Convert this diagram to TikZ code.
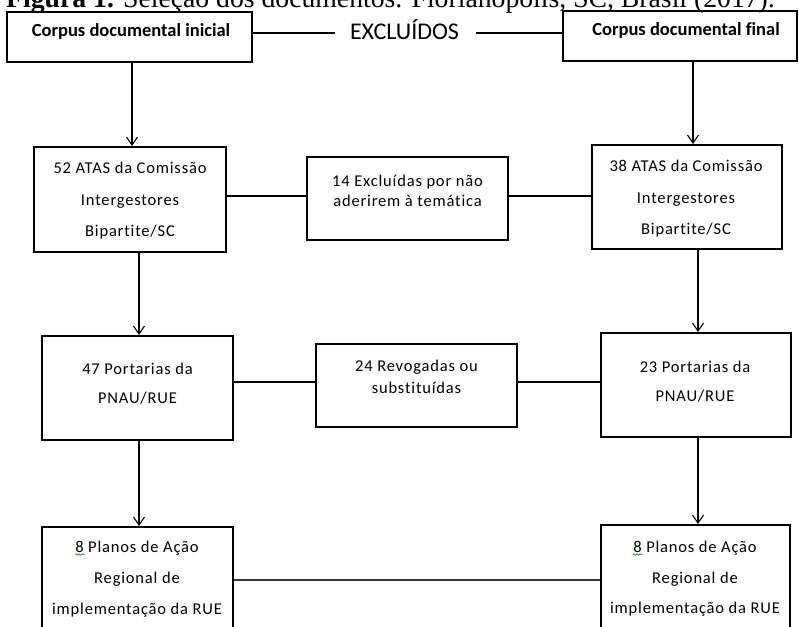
\documentclass[tikz,border=0pt]{standalone}
\usepackage{fontspec}
\setmainfont{Liberation Serif}
\newfontfamily\calibri[LetterSpace=5,Ligatures=NoCommon]{Carlito}
\newfontfamily\calibrihead[Ligatures=NoCommon]{Carlito}
\usetikzlibrary{arrows.meta,decorations.pathmorphing}

\begin{document}
\begin{tikzpicture}[x=1pt,y=-1pt,
  box/.style={draw, line width=2pt, inner sep=0pt, minimum width=#1},
  link/.style={line width=1.1pt},
  arr/.style={line width=1.1pt, -{Straight Barb[length=8pt,width=11pt]}},
  txt/.style={font=\calibri\fontsize{16.5}{18}\selectfont, inner sep=0pt, anchor=base},
  head/.style={font=\calibrihead\bfseries\fontsize{18.5}{20}\selectfont, inner sep=0pt, anchor=base},
  squiggle/.style={draw=green!55!black, line width=0.6pt, decorate,
    decoration={snake, amplitude=0.8pt, segment length=3pt}}
]
\useasboundingbox (0,0) rectangle (799,626);

% caption (partly above the page edge)
\node[font=\fontsize{27.7}{30}\selectfont, inner sep=0pt, anchor=base west] (cap) at (6,8)
  {\textbf{Figura 1.} Seleção dos documentos. Florianópolis, SC, Brasil (2017).};

% boxes
\node[box=245pt, minimum height=50pt] (b1) at (129.5,37) {};
\node[box=234pt, minimum height=50pt] (b2) at (680,36) {};
\node[box=192pt, minimum height=105pt] (b3) at (130,199.5) {};
\node[box=201pt, minimum height=83pt] (b14) at (407.5,198.5) {};
\node[box=190pt, minimum height=104pt] (b4) at (687,197) {};
\node[box=191pt, minimum height=104pt] (b5) at (137.5,388) {};
\node[box=201pt, minimum height=83pt] (b24) at (416.5,385.5) {};
\node[box=190pt, minimum height=104pt] (b6) at (696,385) {};
\node[box=191pt, minimum height=112pt] (b7) at (137.5,583) {};
\node[box=189pt, minimum height=114pt] (b8) at (695.5,582) {};

% texts
\node[head] (t1) at (131,37) {Corpus documental inicial};
\node[head] (t2) at (686,36) {Corpus documental final};
\node[font=\calibrihead\fontsize{24}{26}\selectfont, inner sep=0pt, anchor=base] (excl) at (404.5,40) {EXCLUÍDOS};

\node[txt] (t3a) at (130,173) {52 ATAS da Comissão};
\node[txt] (t3b) at (130,205) {Intergestores};
\node[txt] (t3c) at (130,236) {Bipartite/SC};

\node[txt] (t14a) at (407.5,186) {14 Excluídas por não};
\node[txt] (t14b) at (407.5,206) {aderirem à temática};

\node[txt] (t4a) at (686,171) {38 ATAS da Comissão};
\node[txt] (t4b) at (686,203) {Intergestores};
\node[txt] (t4c) at (686,234) {Bipartite/SC};

\node[txt] (t5a) at (137.5,374) {47 Portarias da};
\node[txt] (t5b) at (137.5,403) {PNAU/RUE};

\node[txt] (t24a) at (416.5,371) {24 Revogadas ou};
\node[txt] (t24b) at (416.5,393) {substituídas};

\node[txt] (t6a) at (695,372) {23 Portarias da};
\node[txt] (t6b) at (695,401) {PNAU/RUE};

\node[txt] (t7a) at (137,552) {8 Planos de Ação};
\node[txt] (t7b) at (137,583) {Regional de};
\node[txt] (t7c) at (137,614) {implementação da RUE};

\node[txt] (t8a) at (695,552) {8 Planos de Ação};
\node[txt] (t8b) at (695,583) {Regional de};
\node[txt] (t8c) at (695,613) {implementação da RUE};

% spell-check marks under the leading 8
\draw[squiggle] (t7a.base west) ++(0,2.5) -- ++(9,0);
\draw[squiggle] (t8a.base west) ++(0,2.5) -- ++(9,0);

% x positions of the vertical arrows
\coordinate (xl1) at (132,0);
\coordinate (xr1) at (693,0);
\coordinate (xl2) at (139,0);
\coordinate (xr2) at (698,0);

% vertical arrows
\draw[arr] (b1.south -| xl1) -- (b3.north -| xl1);
\draw[arr] (b2.south -| xr1) -- (b4.north -| xr1);
\draw[arr] (b3.south -| xl2) -- (b5.north -| xl2);
\draw[arr] (b4.south -| xr2) -- (b6.north -| xr2);
\draw[arr] (b5.south -| xl2) -- (b7.north -| xl2);
\draw[arr] (b6.south -| xr2) -- (b8.north -| xr2);

% horizontal links
\coordinate (ya) at (0,33);
\coordinate (yb) at (0,196);
\coordinate (yc) at (0,382);
\coordinate (yd) at (0,580);
\draw[link] (b1.east |- ya) -- ([xshift=-15pt]excl.west |- ya);
\draw[link] ([xshift=17pt]excl.east |- ya) -- (b2.west |- ya);
\draw[link] (b3.east |- yb) -- (b14.west |- yb);
\draw[link] (b14.east |- yb) -- (b4.west |- yb);
\draw[link] (b5.east |- yc) -- (b24.west |- yc);
\draw[link] (b24.east |- yc) -- (b6.west |- yc);
\draw[link, black!80] (b7.east |- yd) -- (b8.west |- yd);
\end{tikzpicture}
\end{document}
